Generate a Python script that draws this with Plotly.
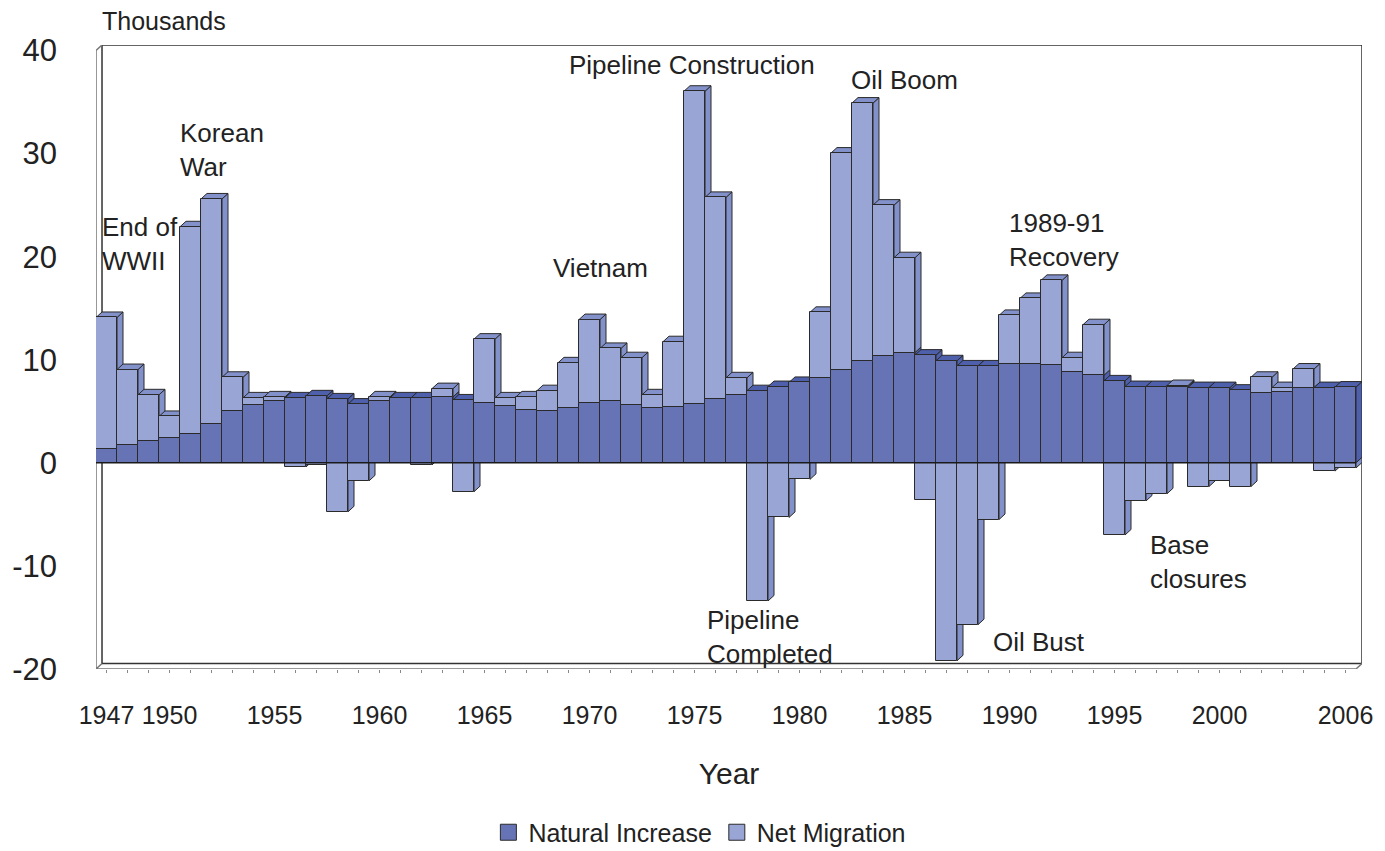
import plotly.graph_objects as go

# ---------------- data (thousands) ----------------
years = list(range(1947, 2007))

natural_increase = [
    1.3, 1.7, 2.1, 2.4, 2.8, 3.8, 5.0, 5.6, 6.0, 6.3,
    6.5, 6.2, 5.7, 6.0, 6.3, 6.3, 6.4, 6.1, 5.8, 5.5,
    5.1, 5.0, 5.3, 5.85, 6.0, 5.65, 5.3, 5.4, 5.75, 6.15,
    6.55, 7.0, 7.4, 7.8, 8.2, 9.05, 9.9, 10.4, 10.7, 10.45,
    9.9, 9.4, 9.4, 9.6, 9.55, 9.5, 8.85, 8.5, 7.95, 7.4,
    7.4, 7.4, 7.3, 7.3, 7.05, 6.8, 6.9, 7.3, 7.3, 7.35,
]

net_migration = [
    12.8, 7.35, 4.5, 2.1, 20.1, 21.8, 3.3, 0.7, 0.4, -0.4,
    -0.25, -4.75, -1.75, 0.4, 0.0, -0.2, 0.8, -2.8, 6.2, 0.8,
    1.3, 2.0, 4.4, 8.05, 5.1, 4.55, 1.3, 6.35, 30.3, 19.6,
    1.7, -13.4, -5.3, -1.6, 6.4, 21.0, 25.0, 14.6, 9.2, -3.6,
    -19.2, -15.7, -5.5, 4.7, 6.4, 8.2, 1.35, 4.9, -7.0, -3.7,
    -3.0, 0.1, -2.3, -1.75, -2.3, 1.5, 0.4, 1.8, -0.8, -0.5,
]

tick_years = [1947, 1950, 1955, 1960, 1965, 1970, 1975, 1980, 1985, 1990, 1995, 2000, 2006]
y_ticks = [-20, -10, 0, 10, 20, 30, 40]
y_tick_labels = ["-20", "-10", "0", "10", "20", "30", "40"]

event_labels = ["End of<br>WWII", "Korean<br>War", "Vietnam", "Pipeline Construction",
                "Oil Boom", "1989-91<br>Recovery", "Pipeline<br>Completed", "Oil Bust",
                "Base<br>closures"]
event_x = [1946.68, 1950.4, 1968.17, 1968.93, 1982.36, 1989.88, 1975.5, 1989.12, 1996.6]
event_y = [21.2, 30.3, 18.9, 38.6, 37.1, 21.6, -16.9, -17.35, -9.6]

# ---------------- style ----------------
FONT = "Liberation Sans, Arial, sans-serif"
TXT = "#222222"
DARK = "#6674B5"
LIGHT = "#98A5D5"
DARK_FACE = "#4E5FAB"
LIGHT_FACE = "#8391CB"
EDGE = "#2a2a2a"
DX = 0.286   # depth offset in years
DY = 0.534   # depth offset in thousands

fig = go.Figure()
fig.add_bar(x=years, y=natural_increase, name="Natural Increase", width=1, showlegend=False,
            marker=dict(color=DARK, line=dict(color=EDGE, width=1)))
fig.add_bar(x=years, y=net_migration, name="Net Migration", width=1, showlegend=False,
            marker=dict(color=LIGHT, line=dict(color=EDGE, width=1)))
# legend entries with larger square swatches
for nm, col in [("Natural Increase", DARK), ("Net Migration", LIGHT)]:
    fig.add_scatter(x=[None], y=[None], mode="markers", name=nm,
                    marker=dict(symbol="square", size=18, color=col, line=dict(color=EDGE, width=1)))


def poly(pts):
    return "M " + " L ".join(f"{x:.4f},{y:.4f}" for x, y in pts) + " Z"


def face(pts, color):
    return dict(type="path", path=poly(pts), xref="x", yref="y", layer="below",
                fillcolor=color, line=dict(color=EDGE, width=1))


def side(r, b, t, color):
    return face([(r, b), (r, t), (r + DX, t + DY), (r + DX, b + DY)], color)


def top(l, r, t, color):
    return face([(l, t), (r, t), (r + DX, t + DY), (l + DX, t + DY)], color)


x0, x1 = years[0] - 0.5, years[-1] + 0.5
ymin, ymax = y_ticks[0], y_ticks[-1]

shapes = []
# walls and floor
shapes.append(dict(type="rect", xref="x", yref="y", layer="below",
                   x0=x0 + DX, x1=x1 + DX, y0=ymin + DY, y1=ymax + DY,
                   line=dict(color="#333333", width=1.5), fillcolor="rgba(0,0,0,0)"))
shapes.append(dict(type="path", xref="x", yref="y", layer="below",
                   path=f"M {x0},{ymax} L {x0 + DX},{ymax + DY} M {x0},{ymax} L {x0},{ymin} L {x1},{ymin} L {x1 + DX},{ymin + DY}"
                        f" M {x0},{ymin} L {x0 + DX},{ymin + DY}",
                   line=dict(color="#777777", width=1.5)))

for yr, n, m in zip(years, natural_increase, net_migration):
    l, r = yr - 0.5, yr + 0.5
    shapes.append(side(r, 0, n, DARK_FACE))
    if m > 0:
        shapes.append(side(r, n, n + m, LIGHT_FACE))
        shapes.append(top(l, r, n + m, LIGHT_FACE))
    else:
        if m < 0:
            shapes.append(side(r, m, 0, LIGHT_FACE))
        shapes.append(top(l, r, n, DARK_FACE))

# front zero line
shapes.append(dict(type="line", xref="x", yref="y", layer="above",
                   x0=x0, x1=x1, y0=0, y1=0, line=dict(color="#1a1a1a", width=1.5)))

annotations = [dict(text=t, x=x, y=y, xref="x", yref="y", xanchor="left", yanchor="middle",
                    align="left", showarrow=False, font=dict(family=FONT, size=26, color=TXT))
               for t, x, y in zip(event_labels, event_x, event_y)]
annotations.append(dict(text="Thousands", xref="paper", yref="paper", x=0.003, y=1.0385,
                        xanchor="left", yanchor="middle", showarrow=False,
                        font=dict(family=FONT, size=25, color=TXT)))

fig.update_layout(
    width=1385, height=851,
    margin=dict(l=96, r=23, t=45, b=182, autoexpand=False),
    paper_bgcolor="white", plot_bgcolor="white",
    barmode="relative", bargap=0,
    font=dict(family=FONT, color=TXT),
    shapes=shapes,
    annotations=annotations,
    legend=dict(orientation="h", x=0.477, xanchor="center", y=-0.262, yanchor="middle",
                font=dict(family=FONT, size=25, color=TXT), traceorder="normal",
                itemsizing="trace", itemwidth=30),
    xaxis=dict(range=[x0, x1 + DX], tickvals=tick_years, ticktext=[str(t) for t in tick_years],
               tickangle=0, ticks="outside", ticklen=3, tickcolor="#888888",
               showgrid=False, zeroline=False, showline=False,
               tickfont=dict(family=FONT, size=25, color=TXT), ticklabelstandoff=21,
               minor=dict(ticks="outside", ticklen=3, tickcolor="#888888", dtick=1, tick0=1947, showgrid=False),
               title=dict(text="Year", font=dict(family=FONT, size=30, color=TXT), standoff=34)),
    yaxis=dict(range=[ymin, ymax + DY], tickvals=y_ticks, ticktext=y_tick_labels, ticks="",
               showgrid=False, zeroline=False, showline=False,
               tickfont=dict(family=FONT, size=31, color=TXT), ticklabelstandoff=38),
)

fig.write_html("out.html", config={"displayModeBar": False},
               post_script="document.body.style.margin='0px';document.body.style.padding='0px';")
